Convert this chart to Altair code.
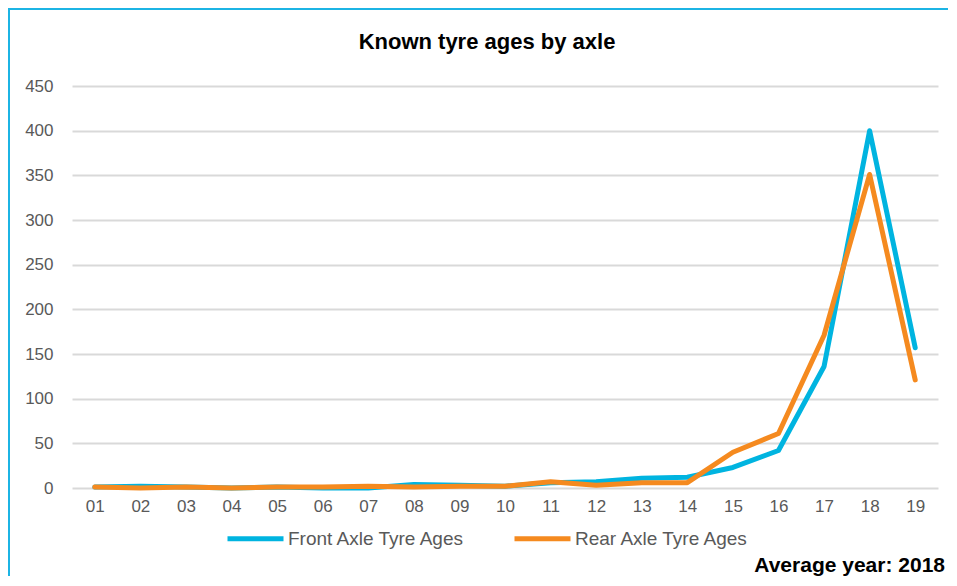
import altair as alt
import pandas as pd

years = ["01", "02", "03", "04", "05", "06", "07", "08", "09", "10",
         "11", "12", "13", "14", "15", "16", "17", "18", "19"]
front = [1, 2, 1, 0, 1, 0, 0, 4, 3, 2, 6, 7, 11, 12, 23, 42, 136, 400, 157]
rear = [1, 0, 1, 0, 1, 1, 2, 1, 2, 2, 7, 3, 6, 6, 40, 61, 171, 351, 121]
series_names = ["Front Axle Tyre Ages", "Rear Axle Tyre Ages"]
series_colors = ["#00B4E0", "#F58A1F"]
y_ticks = [0, 50, 100, 150, 200, 250, 300, 350, 400, 450]
title_text = "Known tyre ages by axle"
note = "Average year: 2018"

rows = []
for i, y in enumerate(years):
    rows.append({"year": y, "series": series_names[0], "value": front[i], "order": i})
    rows.append({"year": y, "series": series_names[1], "value": rear[i], "order": i})
df = pd.DataFrame(rows)

FONT = "Liberation Sans"
W, H = 866, 402

lines = alt.Chart(df).mark_line(strokeWidth=5, strokeCap="round", strokeJoin="round").encode(
    x=alt.X("year:N", sort=years, title=None,
            scale=alt.Scale(paddingInner=0, paddingOuter=0.5),
            axis=alt.Axis(labelAngle=0, labelFontSize=17, labelColor="#595959",
                          labelFont=FONT, ticks=False, domain=False, grid=False,
                          labelPadding=10)),
    y=alt.Y("value:Q", title=None,
            scale=alt.Scale(domain=[0, 450], nice=False),
            axis=alt.Axis(values=y_ticks, labelFontSize=17, labelColor="#595959",
                          labelFont=FONT, ticks=False, domain=False,
                          gridColor="#D9D9D9", gridWidth=2, labelPadding=19)),
    color=alt.Color("series:N", sort=series_names,
                    scale=alt.Scale(domain=series_names, range=series_colors),
                    legend=alt.Legend(title=None, orient="none", direction="horizontal",
                                      legendX=153, legendY=422,
                                      symbolType="stroke", symbolSize=3136,
                                      symbolStrokeWidth=5, labelFontSize=19,
                                      labelColor="#595959", labelFont=FONT,
                                      labelOffset=2, columnPadding=38,
                                      labelLimit=300)),
    order="order:Q",
)

text_df = pd.DataFrame({"t": [note], "title": [title_text]})
note_mark = alt.Chart(text_df).mark_text(
    align="right", baseline="middle", fontSize=21, fontWeight="bold",
    font=FONT, color="#000000"
).encode(x=alt.value(873), y=alt.value(480), text="t:N")

title_mark = alt.Chart(text_df).mark_text(
    align="center", baseline="middle", fontSize=22, fontWeight="bold",
    font=FONT, color="#000000"
).encode(x=alt.value(415), y=alt.value(-44), text="title:N")

border = alt.Chart(text_df).mark_rect(
    fill=None, stroke="#1CB4E4", strokeWidth=2
).encode(x=alt.value(-63), x2=alt.value(900), y=alt.value(-77), y2=alt.value(520))

chart = alt.layer(border, lines, note_mark, title_mark).properties(
    width=W, height=H,
    background="white",
    autosize=alt.AutoSizeParams(type="none"),
    padding={"left": 64, "top": 78, "right": 10, "bottom": 88},
).configure_view(strokeWidth=0)

chart.save("out.html", embed_options={"renderer": "svg", "actions": False})
